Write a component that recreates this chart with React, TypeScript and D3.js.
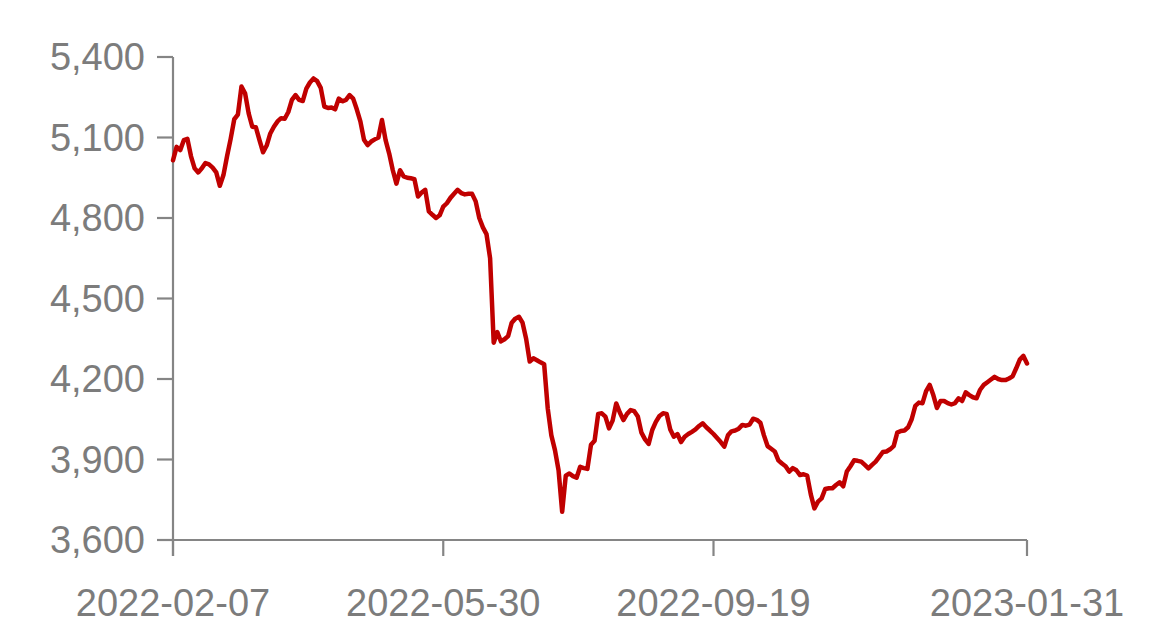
import React from "react";
import * as d3 from "d3";

const values: number[] = [
  5015, 5065, 5053, 5090, 5095, 5030, 4985, 4970, 4985, 5005,
  5000, 4988, 4970, 4920, 4960, 5030, 5095, 5168, 5185, 5290,
  5265, 5190, 5140, 5138, 5090, 5045, 5070, 5115, 5140, 5160,
  5172, 5170, 5195, 5240, 5258, 5240, 5236, 5282, 5305, 5320,
  5310, 5285, 5215, 5210, 5212, 5205, 5245, 5235, 5240, 5258,
  5245, 5205, 5160, 5092, 5072, 5085, 5093, 5100, 5165, 5090,
  5040, 4978, 4928, 4978, 4955, 4950, 4948, 4945, 4880, 4895,
  4905, 4825, 4812, 4800, 4810, 4842, 4855, 4875, 4890, 4905,
  4893, 4888, 4890, 4890, 4862, 4800, 4765, 4740, 4650, 4335,
  4375, 4340, 4348, 4360, 4410, 4425, 4432, 4410, 4350, 4265,
  4277, 4270, 4262, 4255, 4090, 3990, 3935, 3860, 3705, 3840,
  3848, 3838, 3832, 3873, 3868, 3865, 3955, 3970, 4070, 4072,
  4060, 4016, 4045, 4109, 4075, 4047, 4070, 4084, 4080, 4060,
  4000, 3975, 3958, 4010, 4040, 4062, 4072, 4070, 4012, 3985,
  3995, 3965, 3985, 3995, 4003, 4012, 4025, 4035, 4020, 4008,
  3995, 3980, 3965, 3948, 3990, 4005, 4008, 4015, 4029, 4026,
  4030, 4052, 4048, 4037, 3990, 3950, 3940, 3930, 3897, 3885,
  3875, 3855, 3868, 3860, 3842, 3845, 3840, 3770, 3718, 3743,
  3755, 3790, 3793, 3793, 3805, 3815, 3800, 3855, 3875, 3897,
  3895, 3892, 3880, 3867, 3880, 3892, 3910, 3928, 3930, 3938,
  3950, 4000, 4006, 4008, 4020, 4050, 4100, 4112, 4110, 4155,
  4178, 4140, 4092, 4118, 4118, 4110, 4105, 4110, 4128, 4118,
  4150, 4140, 4132, 4128, 4160, 4178, 4188, 4198, 4208, 4200,
  4196, 4196, 4202, 4210, 4240, 4272, 4286, 4258
];

const xTickIndex: number[] = [0, 75, 150, 237];
const xTickLabels: string[] = ["2022-02-07", "2022-05-30", "2022-09-19", "2023-01-31"];
const yTicks: number[] = [3600, 3900, 4200, 4500, 4800, 5100, 5400];

const AXIS = "#858585";
const TEXT = "#7c7c7c";
const LINE = "#c00000";
const FONT = "'Liberation Sans', Arial, Helvetica, sans-serif";

export default function App() {
  const x = d3.scaleLinear().domain([0, values.length - 1]).range([173, 1027]);
  const y = d3.scaleLinear().domain([3600, 5400]).range([540, 57]);
  const fmt = d3.format(",");
  const line = d3
    .line<number>()
    .x((_, i) => x(i))
    .y((d) => y(d));

  const y0 = y(3600);
  const x0 = x(0);

  return (
    <svg
      width={1155}
      height={640}
      style={{ position: "absolute", left: 0, top: 0, background: "#fff" }}
    >
      {/* y axis */}
      <line x1={x0} x2={x0} y1={y(5400)} y2={y0 + 16} stroke={AXIS} strokeWidth={2.2} />
      {yTicks.map((t) => (
        <g key={t}>
          <line x1={x0 - 16} x2={x0} y1={y(t)} y2={y(t)} stroke={AXIS} strokeWidth={2.2} />
          <text
            x={x0 - 28}
            y={y(t)}
            dy="0.35em"
            textAnchor="end"
            fontFamily={FONT}
            fontSize={38}
            fill={TEXT}
          >
            {fmt(t)}
          </text>
        </g>
      ))}
      {/* x axis */}
      <line x1={x0 - 16} x2={x(values.length - 1)} y1={y0} y2={y0} stroke={AXIS} strokeWidth={2.2} />
      {xTickIndex.map((idx, k) => (
        <g key={idx}>
          <line x1={x(idx)} x2={x(idx)} y1={y0} y2={y0 + 16} stroke={AXIS} strokeWidth={2.2} />
          <text
            x={x(idx)}
            y={y0 + 76}
            textAnchor="middle"
            fontFamily={FONT}
            fontSize={38}
            fill={TEXT}
          >
            {xTickLabels[k]}
          </text>
        </g>
      ))}
      <path
        d={line(values) || ""}
        fill="none"
        stroke={LINE}
        strokeWidth={4.5}
        strokeLinejoin="round"
        strokeLinecap="round"
      />
    </svg>
  );
}
